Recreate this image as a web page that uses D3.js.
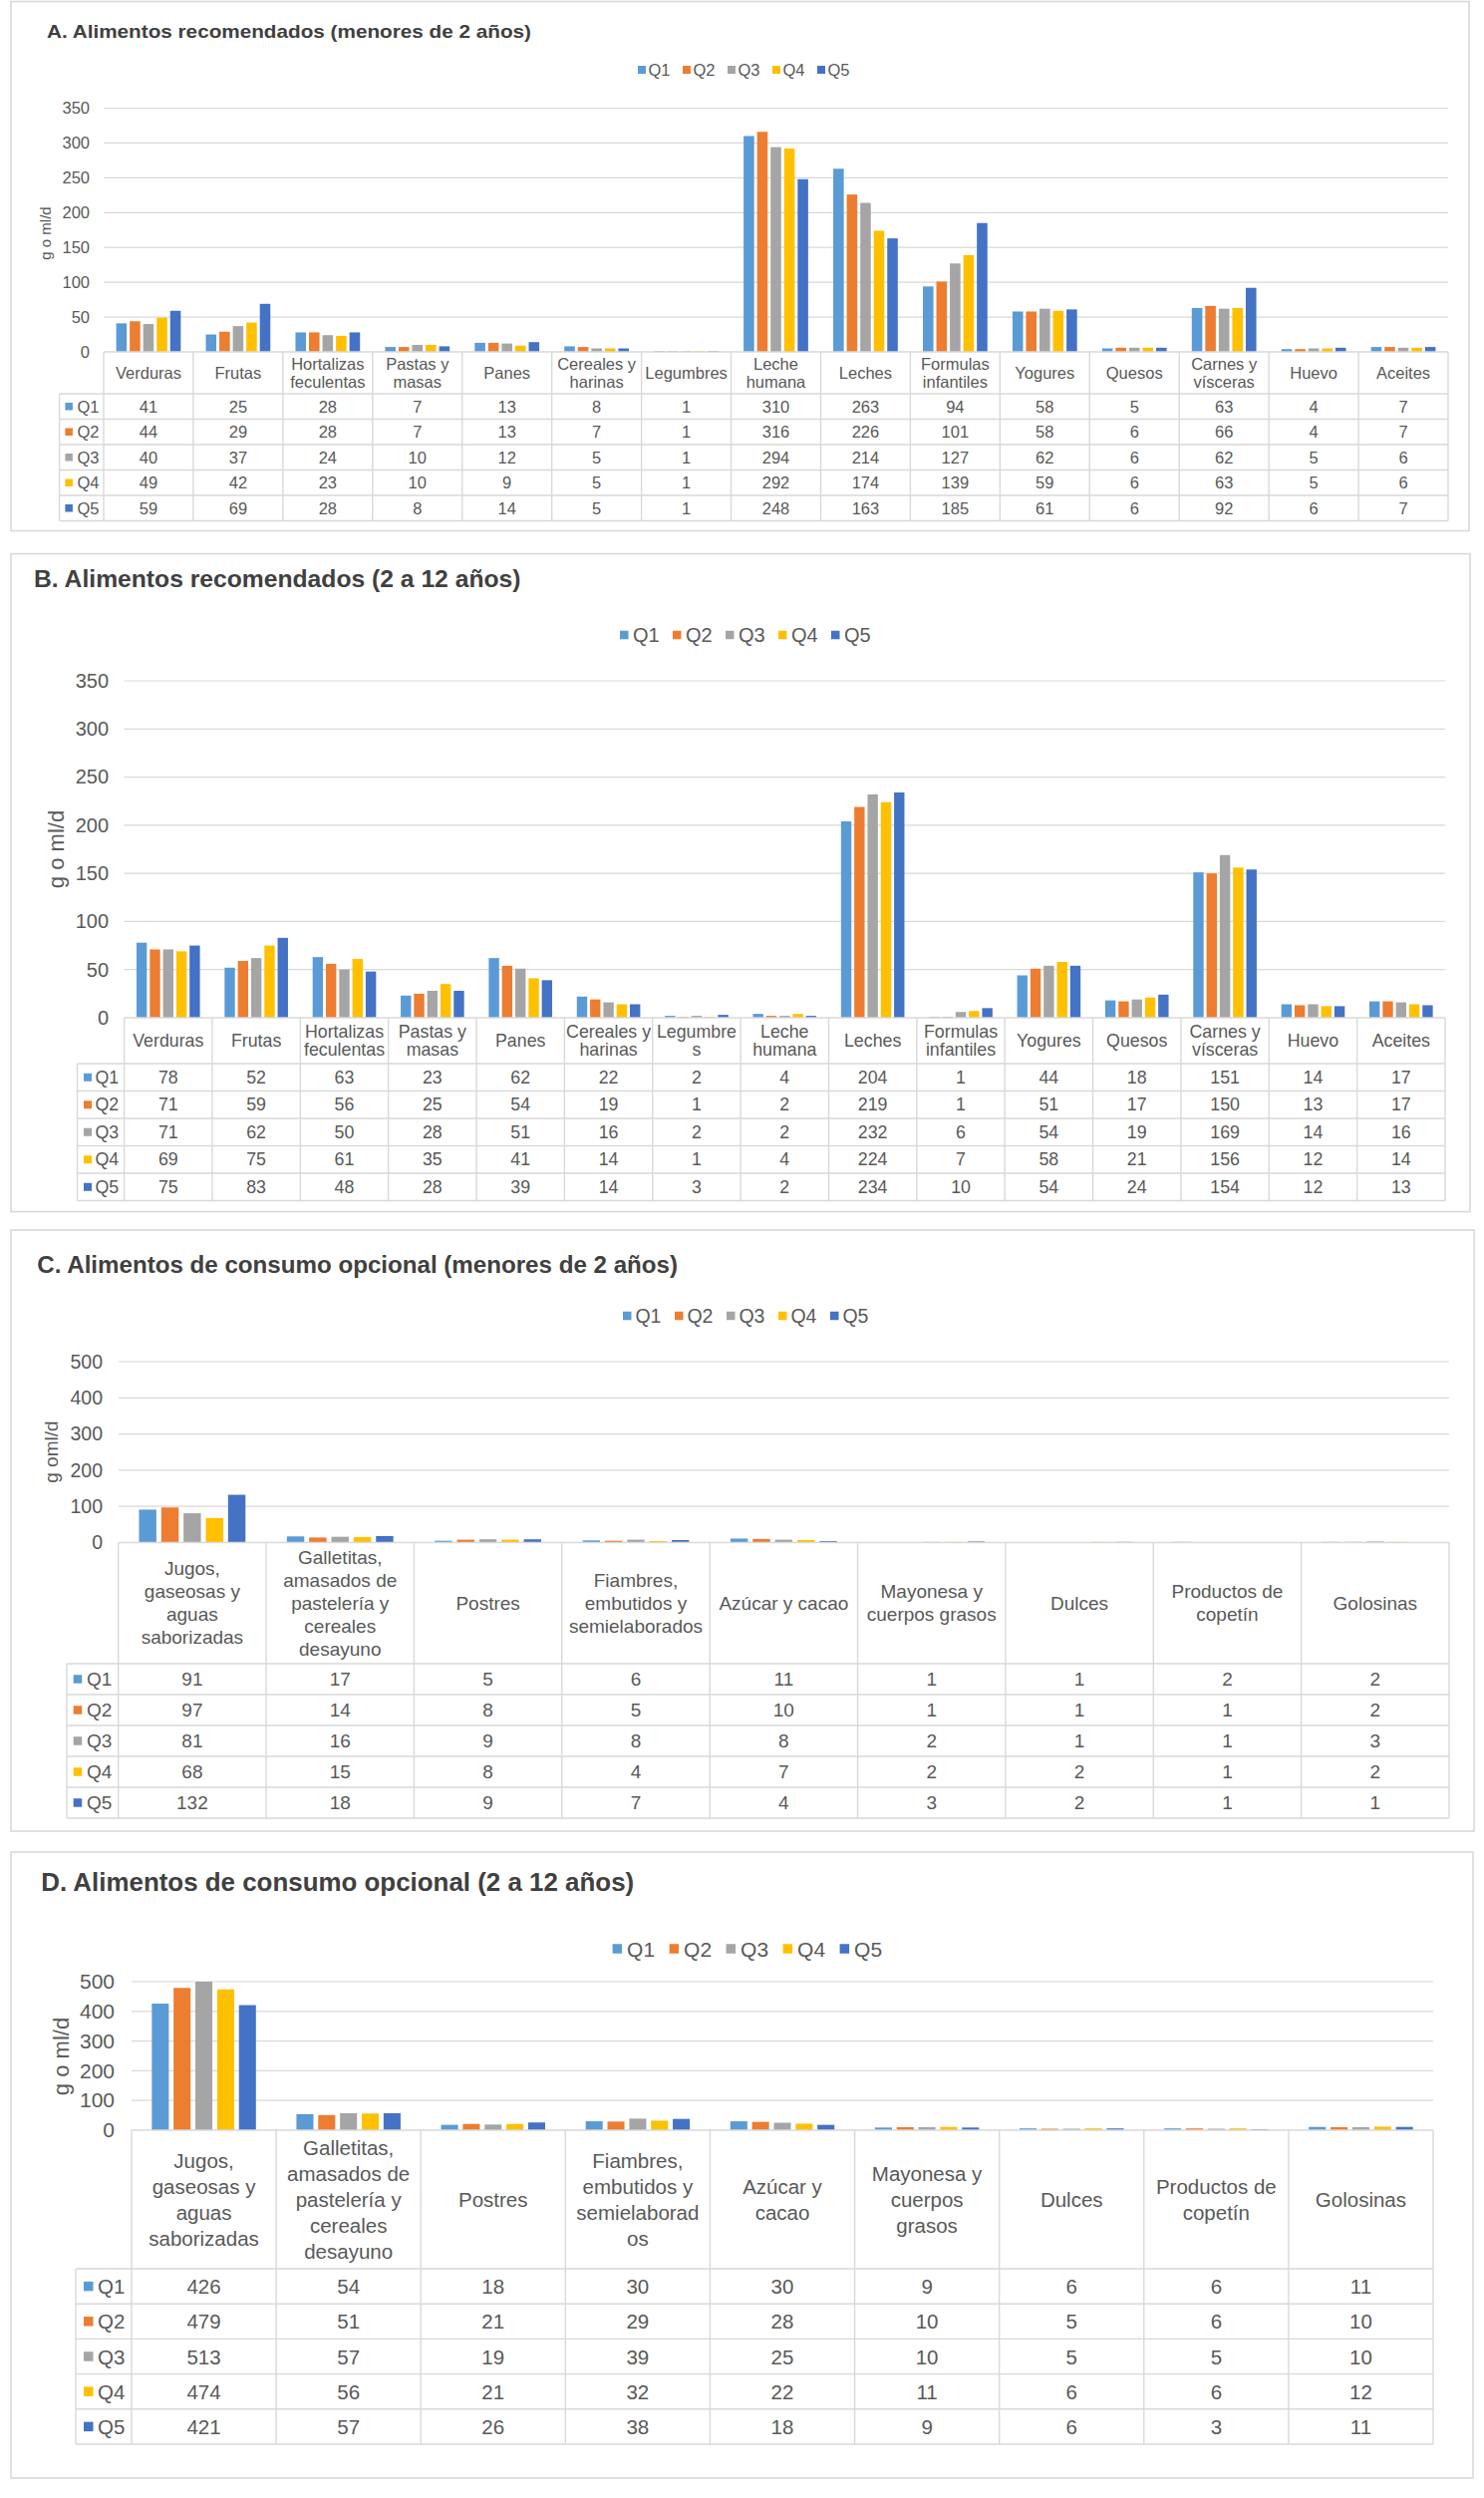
<!DOCTYPE html>
<html>
<head>
<meta charset="utf-8">
<script src="https://cdn.jsdelivr.net/npm/d3@7"></script>
<style>
  body { margin: 0; background: #fff; }
  text { font-family: "Liberation Sans", Arial, sans-serif; }
</style>
</head>
<body>
<script>
// Dimensions de la page
const largeur = 1489;
const hauteur = 2506;

const quintiles = ["Q1", "Q2", "Q3", "Q4", "Q5"];
const couleurs = ["#5B9BD5", "#ED7D31", "#A5A5A5", "#FFC000", "#4472C4"];

// --- A. Alimentos recomendados (menores de 2 años)
const titreA = "A. Alimentos recomendados (menores de 2 años)";
const categoriesA = ["Verduras", "Frutas", "Hortalizas\nfeculentas", "Pastas y\nmasas", "Panes",
  "Cereales y\nharinas", "Legumbres", "Leche\nhumana", "Leches", "Formulas\ninfantiles",
  "Yogures", "Quesos", "Carnes y\nvísceras", "Huevo", "Aceites"];
const valeursA = [
  [41, 25, 28, 7, 13, 8, 1, 310, 263, 94, 58, 5, 63, 4, 7],
  [44, 29, 28, 7, 13, 7, 1, 316, 226, 101, 58, 6, 66, 4, 7],
  [40, 37, 24, 10, 12, 5, 1, 294, 214, 127, 62, 6, 62, 5, 6],
  [49, 42, 23, 10, 9, 5, 1, 292, 174, 139, 59, 6, 63, 5, 6],
  [59, 69, 28, 8, 14, 5, 1, 248, 163, 185, 61, 6, 92, 6, 7]
];
const ticksA = [0, 50, 100, 150, 200, 250, 300, 350];

// --- B. Alimentos recomendados (2 a 12 años)
const titreB = "B. Alimentos recomendados (2 a 12 años)";
const categoriesB = ["Verduras", "Frutas", "Hortalizas\nfeculentas", "Pastas y\nmasas", "Panes",
  "Cereales y\nharinas", "Legumbre\ns", "Leche\nhumana", "Leches", "Formulas\ninfantiles",
  "Yogures", "Quesos", "Carnes y\nvísceras", "Huevo", "Aceites"];
const valeursB = [
  [78, 52, 63, 23, 62, 22, 2, 4, 204, 1, 44, 18, 151, 14, 17],
  [71, 59, 56, 25, 54, 19, 1, 2, 219, 1, 51, 17, 150, 13, 17],
  [71, 62, 50, 28, 51, 16, 2, 2, 232, 6, 54, 19, 169, 14, 16],
  [69, 75, 61, 35, 41, 14, 1, 4, 224, 7, 58, 21, 156, 12, 14],
  [75, 83, 48, 28, 39, 14, 3, 2, 234, 10, 54, 24, 154, 12, 13]
];
const ticksB = [0, 50, 100, 150, 200, 250, 300, 350];

// --- C. Alimentos de consumo opcional (menores de 2 años)
const titreC = "C. Alimentos de consumo opcional (menores de 2 años)";
const categoriesC = ["Jugos,\ngaseosas y\naguas\nsaborizadas",
  "Galletitas,\namasados de\npastelería y\ncereales\ndesayuno", "Postres",
  "Fiambres,\nembutidos y\nsemielaborados", "Azúcar y cacao", "Mayonesa y\ncuerpos grasos",
  "Dulces", "Productos de\ncopetín", "Golosinas"];
const valeursC = [
  [91, 17, 5, 6, 11, 1, 1, 2, 2],
  [97, 14, 8, 5, 10, 1, 1, 1, 2],
  [81, 16, 9, 8, 8, 2, 1, 1, 3],
  [68, 15, 8, 4, 7, 2, 2, 1, 2],
  [132, 18, 9, 7, 4, 3, 2, 1, 1]
];
const ticksC = [0, 100, 200, 300, 400, 500];

// --- D. Alimentos de consumo opcional (2 a 12 años)
const titreD = "D. Alimentos de consumo opcional (2 a 12 años)";
const categoriesD = ["Jugos,\ngaseosas y\naguas\nsaborizadas",
  "Galletitas,\namasados de\npastelería y\ncereales\ndesayuno", "Postres",
  "Fiambres,\nembutidos y\nsemielaborad\nos", "Azúcar y\ncacao", "Mayonesa y\ncuerpos\ngrasos",
  "Dulces", "Productos de\ncopetín", "Golosinas"];
const valeursD = [
  [426, 54, 18, 30, 30, 9, 6, 6, 11],
  [479, 51, 21, 29, 28, 10, 5, 6, 10],
  [513, 57, 19, 39, 25, 10, 5, 5, 10],
  [474, 56, 21, 32, 22, 11, 6, 6, 12],
  [421, 57, 26, 38, 18, 9, 6, 3, 11]
];
const ticksD = [0, 100, 200, 300, 400, 500];

const gris = "#595959";
const ligne = "#d9d9d9";

const svg = d3.select("body").append("svg")
  .attr("width", largeur)
  .attr("height", hauteur);

function dessinerPanneau(p) {
  const g = svg.append("g");

  // cadre
  g.append("rect")
    .attr("x", p.box[0]).attr("y", p.box[1])
    .attr("width", p.box[2]).attr("height", p.box[3])
    .attr("fill", "#fff").attr("stroke", ligne).attr("stroke-width", 1.6);

  // titre
  g.append("text")
    .attr("x", p.titreX).attr("y", p.titreY)
    .attr("font-size", p.titreTaille).attr("font-weight", "bold")
    .attr("fill", "#404040")
    .attr("textLength", p.titreLong).attr("lengthAdjust", "spacingAndGlyphs")
    .text(p.titre);

  // légende
  const leg = g.selectAll(".leg").data(quintiles).enter().append("g")
    .attr("transform", (d, i) => `translate(${p.legX + i * p.legPas},${p.legY})`);
  leg.append("rect")
    .attr("x", 0).attr("y", -p.legCarre / 2)
    .attr("width", p.legCarre).attr("height", p.legCarre)
    .attr("fill", (d, i) => couleurs[i]);
  leg.append("text")
    .attr("x", p.legTexte).attr("y", 0)
    .attr("dominant-baseline", "central")
    .attr("font-size", p.legTaille).attr("fill", gris)
    .text(d => d);

  const n = p.categories.length;
  const ticks = p.ticks;
  const yMax = ticks[ticks.length - 1];

  const x = d3.scaleBand().domain(p.categories).range([p.gauche, p.droite]);
  const cell = x.bandwidth();
  const xs = d3.scaleBand().domain(quintiles)
    .range([cell * 0.14, cell * 0.86]).paddingInner(0.22).paddingOuter(0);
  const y = d3.scaleLinear().domain([0, yMax]).range([p.zero, p.haut]).clamp(true);

  // grille
  g.selectAll(".grid").data(ticks.filter(t => t > 0)).enter().append("line")
    .attr("x1", p.gauche).attr("x2", p.droite)
    .attr("y1", d => y(d)).attr("y2", d => y(d))
    .attr("stroke", ligne).attr("stroke-width", 1.2);

  // axe y
  const axe = g.append("g")
    .attr("transform", `translate(${p.gauche},0)`)
    .call(d3.axisLeft(y).tickValues(ticks).tickSize(0).tickPadding(p.tickPad));
  axe.select(".domain").remove();
  axe.selectAll("text")
    .attr("font-size", p.tickTaille).attr("fill", gris)
    .attr("font-family", "Liberation Sans, Arial, sans-serif");

  // titre de l'axe y
  g.append("text")
    .attr("transform", `translate(${p.ytX},${p.ytY}) rotate(-90)`)
    .attr("text-anchor", "middle")
    .attr("font-size", p.ytTaille).attr("fill", gris)
    .text(p.ytTexte);

  // barres
  p.valeurs.forEach((serie, qi) => {
    g.selectAll(".bar" + qi).data(serie).enter().append("rect")
      .attr("x", (d, i) => x(p.categories[i]) + xs(quintiles[qi]))
      .attr("width", xs.bandwidth())
      .attr("y", d => y(d))
      .attr("height", d => p.zero - y(d))
      .attr("fill", couleurs[qi]);
  });

  // tableau de données
  const bas = p.enteteBas + 5 * p.rangH;
  g.append("line")
    .attr("x1", p.gauche).attr("x2", p.droite)
    .attr("y1", p.zero).attr("y2", p.zero)
    .attr("stroke", ligne).attr("stroke-width", 1.4);
  for (let r = 0; r <= 5; r++) {
    const yy = p.enteteBas + r * p.rangH;
    g.append("line")
      .attr("x1", p.tabGauche).attr("x2", p.droite)
      .attr("y1", yy).attr("y2", yy)
      .attr("stroke", ligne).attr("stroke-width", 1.4);
  }
  for (let c = 0; c <= n; c++) {
    const xx = p.gauche + c * cell;
    g.append("line")
      .attr("x1", xx).attr("x2", xx)
      .attr("y1", p.zero).attr("y2", bas)
      .attr("stroke", ligne).attr("stroke-width", 1.4);
  }
  g.append("line")
    .attr("x1", p.tabGauche).attr("x2", p.tabGauche)
    .attr("y1", p.enteteBas).attr("y2", bas)
    .attr("stroke", ligne).attr("stroke-width", 1.4);

  // étiquettes des catégories
  const centreEntete = (p.zero + p.enteteBas) / 2;
  p.categories.forEach(cat => {
    const lignes = cat.split("\n");
    const t = g.append("text")
      .attr("text-anchor", "middle")
      .attr("font-size", p.catTaille).attr("fill", gris);
    lignes.forEach((l, k) => {
      t.append("tspan")
        .attr("x", x(cat) + cell / 2)
        .attr("y", centreEntete + (k - (lignes.length - 1) / 2) * p.interligne)
        .attr("dominant-baseline", "central")
        .text(l);
    });
  });

  // rangées Q1..Q5
  quintiles.forEach((q, qi) => {
    const cy = p.enteteBas + (qi + 0.5) * p.rangH;
    g.append("rect")
      .attr("x", p.carreX).attr("y", cy - p.carre / 2)
      .attr("width", p.carre).attr("height", p.carre)
      .attr("fill", couleurs[qi]);
    g.append("text")
      .attr("x", p.qX).attr("y", cy)
      .attr("dominant-baseline", "central")
      .attr("font-size", p.valTaille).attr("fill", gris)
      .text(q);
    g.selectAll(".val" + qi).data(p.valeurs[qi]).enter().append("text")
      .attr("x", (d, i) => x(p.categories[i]) + cell / 2)
      .attr("y", cy)
      .attr("text-anchor", "middle")
      .attr("dominant-baseline", "central")
      .attr("font-size", p.valTaille).attr("fill", gris)
      .text(d => d);
  });
}

dessinerPanneau({
  titre: titreA, categories: categoriesA, valeurs: valeursA, ticks: ticksA,
  box: [11, 1.5, 1463, 531],
  titreX: 47, titreY: 38, titreTaille: 19, titreLong: 486,
  legX: 640, legY: 70, legPas: 45, legCarre: 8, legTexte: 10.5, legTaille: 16.5,
  gauche: 104, droite: 1453, haut: 108.5, zero: 353,
  tickPad: 14, tickTaille: 16.5,
  ytX: 51, ytY: 234, ytTaille: 15, ytTexte: "g o ml/d",
  tabGauche: 59.6, enteteBas: 395, rangH: 25.5,
  catTaille: 16.5, valTaille: 16.5, interligne: 18,
  carreX: 65.4, carre: 7.5, qX: 77.5
});

dessinerPanneau({
  titre: titreB, categories: categoriesB, valeurs: valeursB, ticks: ticksB,
  box: [11, 555.6, 1464, 660],
  titreX: 34, titreY: 589, titreTaille: 24.5, titreLong: 488.5,
  legX: 622, legY: 637, legPas: 53, legCarre: 8.5, legTexte: 13, legTaille: 20,
  gauche: 124.6, droite: 1450, haut: 683, zero: 1021,
  tickPad: 15.6, tickTaille: 20,
  ytX: 63.5, ytY: 852, ytTaille: 22, ytTexte: "g o ml/d",
  tabGauche: 77.5, enteteBas: 1067, rangH: 27.5,
  catTaille: 17.8, valTaille: 17.8, interligne: 18.5,
  carreX: 84, carre: 8, qX: 95.5
});

dessinerPanneau({
  titre: titreC, categories: categoriesC, valeurs: valeursC, ticks: ticksC,
  box: [11, 1234, 1468, 603],
  titreX: 37.3, titreY: 1277, titreTaille: 24, titreLong: 642.7,
  legX: 625, legY: 1320, legPas: 52, legCarre: 8.5, legTexte: 12.4, legTaille: 19.5,
  gauche: 118.7, droite: 1454, haut: 1366, zero: 1547.5,
  tickPad: 15.7, tickTaille: 19.5,
  ytX: 58, ytY: 1456.6, ytTaille: 19, ytTexte: "g oml/d",
  tabGauche: 67, enteteBas: 1669, rangH: 31,
  catTaille: 19, valTaille: 19, interligne: 23,
  carreX: 73.7, carre: 8.5, qX: 87
});

dessinerPanneau({
  titre: titreD, categories: categoriesD, valeurs: valeursD, ticks: ticksD,
  box: [11, 1858, 1467, 628],
  titreX: 41.2, titreY: 1896.5, titreTaille: 25.5, titreLong: 595,
  legX: 614.6, legY: 1955, legPas: 57, legCarre: 9.5, legTexte: 14.5, legTaille: 21,
  gauche: 132, droite: 1438, haut: 1988, zero: 2137,
  tickPad: 17, tickTaille: 21,
  ytX: 68.5, ytY: 2063, ytTaille: 22, ytTexte: "g o ml/d",
  tabGauche: 76, enteteBas: 2276, rangH: 35.2,
  catTaille: 20.5, valTaille: 20.5, interligne: 26,
  carreX: 84, carre: 9.5, qX: 98
});
</script>
</body>
</html>
